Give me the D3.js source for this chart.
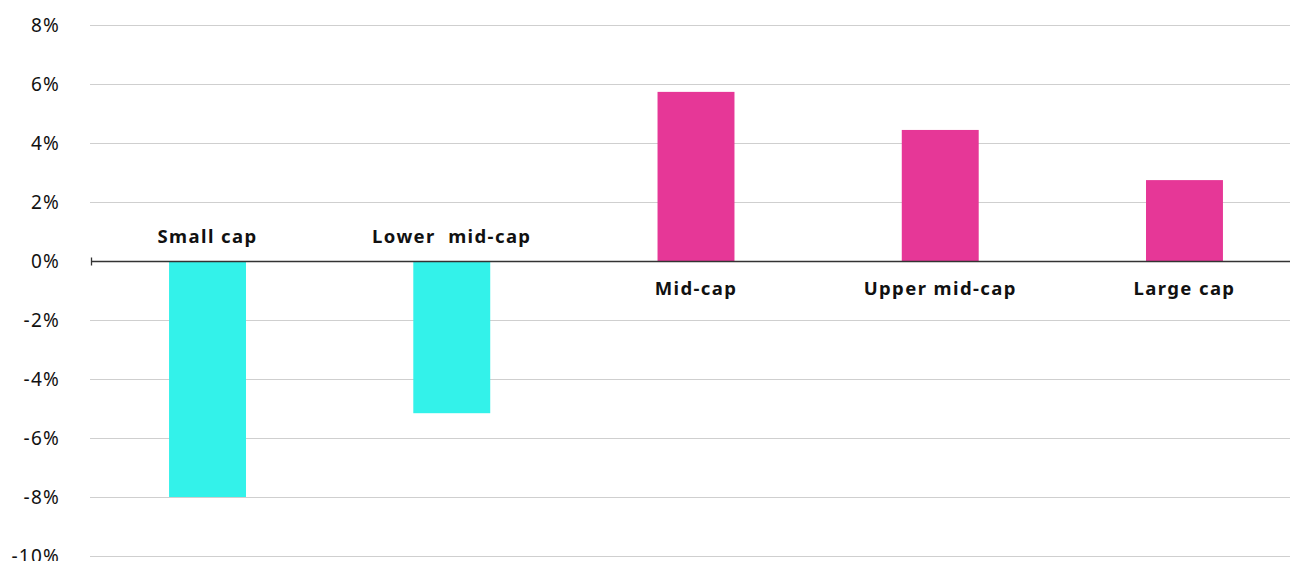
<!DOCTYPE html>
<html><head><meta charset="utf-8">
<script src="https://cdn.jsdelivr.net/npm/d3@7"></script>
<style>
html,body{margin:0;padding:0;background:#fff;}
svg{display:block;}
</style></head>
<body>
<svg id="chart" width="1290" height="561"></svg>
<script>
const categories = ["Small cap", "Lower  mid-cap", "Mid-cap", "Upper mid-cap", "Large cap"];
const values = [-7.99, -5.15, 5.74, 4.45, 2.75];
const yTicks = [8, 6, 4, 2, 0, -2, -4, -6, -8, -10];

const svg = d3.select("#chart");
const gridLeft = 90, gridRight = 1290;

const y = d3.scaleLinear().domain([-10, 8]).range([556.3, 25.2]);
const x = d3.scaleBand().domain(categories).range([85.4, 1306.6]).paddingInner(0.685).paddingOuter(0.3425);

// gridlines
svg.append("g").selectAll("line").data(yTicks.filter(d => d !== 0)).join("line")
  .attr("x1", gridLeft).attr("x2", gridRight)
  .attr("y1", d => Math.round(y(d)) + 0.5).attr("y2", d => Math.round(y(d)) + 0.5)
  .attr("stroke", "#cfcfcf").attr("stroke-width", 1.2);

// y tick labels
svg.append("g").selectAll("text").data(yTicks).join("text")
  .attr("x", 60).attr("y", d => y(d) + 7)
  .attr("text-anchor", "end")
  .attr("font-family", "'Noto Sans', sans-serif")
  .attr("font-size", 19).attr("fill", "#111")
  .attr("letter-spacing", 1.2)
  .text(d => d + "%");

// bars
svg.append("g").selectAll("rect").data(values).join("rect")
  .attr("x", (d, i) => x(categories[i]))
  .attr("width", x.bandwidth())
  .attr("y", d => y(Math.max(0, d)))
  .attr("height", d => Math.abs(y(d) - y(0)))
  .attr("fill", d => d < 0 ? "#33F2EA" : "#E63797");

// zero axis
const y0 = Math.round(y(0)) + 0.5;
svg.append("line").attr("x1", gridLeft + 1).attr("x2", gridRight)
  .attr("y1", y0).attr("y2", y0).attr("stroke", "#333").attr("stroke-width", 1.3);
svg.append("line").attr("x1", gridLeft + 1.5).attr("x2", gridLeft + 1.5)
  .attr("y1", y0 - 4).attr("y2", y0 + 4).attr("stroke", "#333").attr("stroke-width", 1.3);

// category labels
svg.append("g").selectAll("text").data(values).join("text")
  .attr("x", (d, i) => x(categories[i]) + x.bandwidth() / 2)
  .attr("y", d => d < 0 ? y(0) - 18 : y(0) + 34)
  .attr("text-anchor", "middle")
  .attr("font-family", "'Noto Sans', sans-serif")
  .attr("font-weight", "bold")
  .attr("font-size", 18.5).attr("fill", "#111")
  .attr("letter-spacing", 1.4)
  .style("white-space", "pre")
  .text((d, i) => categories[i]);
</script>
</body></html>
